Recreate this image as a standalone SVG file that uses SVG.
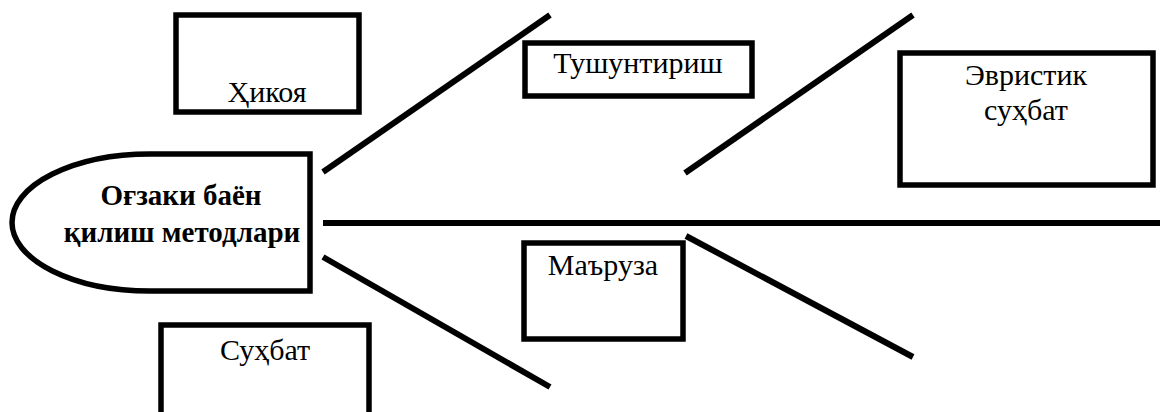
<svg xmlns="http://www.w3.org/2000/svg" width="1160" height="412" viewBox="0 0 1160 412">
<style>
.box{fill:#fff;stroke:#000;stroke-width:5.5}
.ln{stroke:#000;stroke-width:6;fill:none}
.t{font-family:"Liberation Serif","Times New Roman",serif;font-size:30px;fill:#000;text-anchor:middle}
.b{font-family:"Liberation Serif","Times New Roman",serif;font-size:29px;font-weight:bold;fill:#000;text-anchor:middle}
</style>
<rect width="1160" height="412" fill="#fff"/>
<g id="connectors">
<line class="ln" x1="323" y1="172" x2="550" y2="15"/>
<line class="ln" x1="685" y1="173" x2="913" y2="15"/>
<line class="ln" x1="323" y1="223" x2="1160" y2="223"/>
<line class="ln" x1="323" y1="257" x2="550" y2="387"/>
<line class="ln" x1="686" y1="236" x2="913" y2="357"/>
</g>
<g id="head">
<path class="box" d="M310 154 H150 A138 68.5 0 0 0 150 291 H310 Z"/>
<text class="b" x="181" y="205">Оғзаки баён</text>
<text class="b" x="182" y="242">қилиш методлари</text>
</g>
<g id="hikoya">
<rect class="box" x="176" y="15" width="183" height="97"/>
<text class="t" x="267" y="102" font-size="31">Ҳикоя</text>
</g>
<g id="tushuntirish">
<rect class="box" x="525" y="43" width="227" height="53"/>
<text class="t" x="638" y="73">Тушунтириш</text>
</g>
<g id="evristik">
<rect class="box" x="900" y="53" width="253" height="132"/>
<text class="t" x="1026" y="85">Эвристик</text>
<text class="t" x="1026" y="120">суҳбат</text>
</g>
<g id="maruza">
<rect class="box" x="524" y="243" width="159" height="96"/>
<text class="t" x="603" y="275">Маъруза</text>
</g>
<g id="suhbat">
<rect class="box" x="161" y="325" width="208" height="100"/>
<text class="t" x="265" y="360">Суҳбат</text>
</g>
</svg>
